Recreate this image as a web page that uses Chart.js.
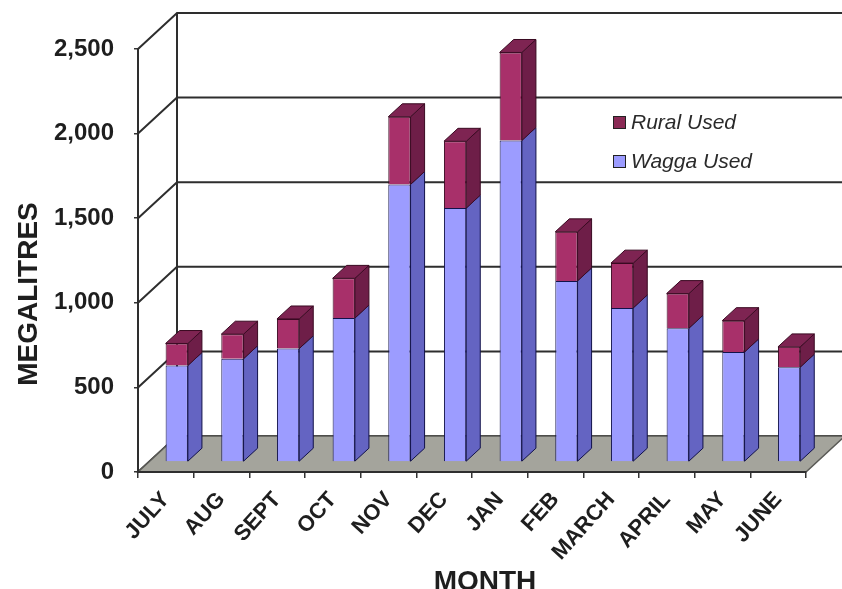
<!DOCTYPE html>
<html>
<head>
<meta charset="utf-8">
<title>Monthly water use</title>
<script src="https://cdn.jsdelivr.net/npm/chart.js@4.4.1/dist/chart.umd.min.js"></script>
<style>
  html, body { margin: 0; padding: 0; background: #ffffff; }
  #wrap { width: 842px; height: 589px; }
</style>
</head>
<body>
<div id="wrap"><canvas id="c" width="842" height="589"></canvas></div>
<script>
// Monthly water use, megalitres
const months = ['JULY', 'AUG', 'SEPT', 'OCT', 'NOV', 'DEC', 'JAN', 'FEB', 'MARCH', 'APRIL', 'MAY', 'JUNE'];
const waggaUsed = [570, 610, 670, 850, 1640, 1500, 1900, 1070, 910, 790, 650, 560];
const ruralUsed = [130, 145, 175, 235, 400, 395, 520, 290, 265, 205, 185, 120];
const yTicks = [0, 500, 1000, 1500, 2000, 2500];

// Perspective of the box: depth vector from the front plane to the back wall
const DX = 39, DY = -36;
const BAR_FRONT = 0.28;   // bars start this far into the box
const BAR_DEPTH = 0.36;   // and are this deep

const LABEL_FONT = '"Liberation Sans", Arial, sans-serif';

const box3d = {
  id: 'box3d',
  beforeDraw(chart) {
    const { ctx, chartArea: a, scales: { y } } = chart;
    ctx.save();
    // walls: horizontal lines on the back wall, diagonals on the side wall
    ctx.strokeStyle = '#2e2e2e';
    ctx.lineWidth = 2;
    yTicks.forEach(v => {
      const py = y.getPixelForValue(v);
      ctx.beginPath();
      ctx.moveTo(a.left, py);
      ctx.lineTo(a.left + DX, py + DY);
      ctx.lineTo(a.right + DX, py + DY);
      ctx.stroke();
    });
    ctx.beginPath();
    ctx.moveTo(a.left + DX, y.getPixelForValue(yTicks[yTicks.length - 1]) + DY);
    ctx.lineTo(a.left + DX, a.bottom + DY);
    ctx.stroke();
    // floor
    ctx.fillStyle = '#a4a49c';
    ctx.beginPath();
    ctx.moveTo(a.left, a.bottom);
    ctx.lineTo(a.right, a.bottom);
    ctx.lineTo(a.right + DX, a.bottom + DY);
    ctx.lineTo(a.left + DX, a.bottom + DY);
    ctx.closePath();
    ctx.fill();
    ctx.strokeStyle = '#5a5a56';
    ctx.lineWidth = 1.5;
    ctx.stroke();
    ctx.restore();
  },
  beforeDatasetsDraw(chart) {
    chart.ctx.save();
    chart.ctx.translate(DX * BAR_FRONT, DY * BAR_FRONT);
  },
  afterDatasetsDraw(chart) {
    const ctx = chart.ctx;
    const ddx = DX * BAR_DEPTH, ddy = DY * BAR_DEPTH;
    const last = chart.data.datasets.length - 1;
    chart.data.datasets.forEach((ds, di) => {
      const meta = chart.getDatasetMeta(di);
      meta.data.forEach(el => {
        const { x, y, base, width } = el.getProps(['x', 'y', 'base', 'width'], true);
        const l = x - width / 2, r = x + width / 2;
        ctx.lineWidth = 1;
        ctx.strokeStyle = ds.borderColor;
        // right side face
        ctx.fillStyle = ds.sideColor;
        ctx.beginPath();
        ctx.moveTo(r, y);
        ctx.lineTo(r + ddx, y + ddy);
        ctx.lineTo(r + ddx, base + ddy);
        ctx.lineTo(r, base);
        ctx.closePath();
        ctx.fill();
        ctx.stroke();
        // top face on the highest segment
        if (di === last) {
          ctx.fillStyle = ds.topColor;
          ctx.beginPath();
          ctx.moveTo(l, y);
          ctx.lineTo(r, y);
          ctx.lineTo(r + ddx, y + ddy);
          ctx.lineTo(l + ddx, y + ddy);
          ctx.closePath();
          ctx.fill();
          ctx.stroke();
        }
      });
    });
    ctx.restore();
  },
  afterDraw(chart) {
    const ctx = chart.ctx;
    ctx.save();
    // axis titles
    ctx.fillStyle = '#1e1e1e';
    ctx.font = 'bold 28px ' + LABEL_FONT;
    ctx.textAlign = 'center';
    ctx.textBaseline = 'middle';
    ctx.save();
    ctx.translate(29, 294);
    ctx.rotate(-Math.PI / 2);
    ctx.fillText('MEGALITRES', 0, 0);
    ctx.restore();
    ctx.textBaseline = 'alphabetic';
    ctx.fillText('MONTH', 485, 590);
    // legend, top series first
    ctx.font = 'italic 21px ' + LABEL_FONT;
    ctx.textAlign = 'left';
    ctx.textBaseline = 'middle';
    const items = chart.data.datasets.slice().reverse();
    items.forEach((ds, i) => {
      const cy = 123 + i * 39;
      ctx.fillStyle = ds.legendColor;
      ctx.fillRect(613, cy - 7, 13, 13);
      ctx.strokeStyle = '#222';
      ctx.lineWidth = 1;
      ctx.strokeRect(613.5, cy - 6.5, 12, 12);
      ctx.fillStyle = '#2a2a2a';
      ctx.fillText(ds.label, 631, cy);
    });
    ctx.restore();
  }
};

new Chart(document.getElementById('c'), {
  type: 'bar',
  data: {
    labels: months,
    datasets: [
      {
        label: 'Wagga Used',
        data: waggaUsed,
        backgroundColor: '#9c9cff',
        sideColor: '#6464c2',
        topColor: '#8080e0',
        legendColor: '#9c9cff',
        borderColor: '#12124a',
        borderWidth: 1,
        clip: false
      },
      {
        label: 'Rural Used',
        data: ruralUsed,
        backgroundColor: '#a8306a',
        sideColor: '#6e1e48',
        topColor: '#7e2452',
        legendColor: '#8a2a55',
        borderColor: '#3a0a22',
        borderWidth: 1,
        clip: false
      }
    ]
  },
  options: {
    responsive: false,
    animation: false,
    devicePixelRatio: 1,
    layout: { padding: { top: 49, right: 36, bottom: 0, left: 0 } },
    datasets: { bar: { categoryPercentage: 1, barPercentage: 0.4 } },
    plugins: { legend: { display: false }, tooltip: { enabled: false } },
    scales: {
      x: {
        stacked: true,
        offset: true,
        grid: { offset: true, drawOnChartArea: false, drawTicks: true, tickLength: 6, color: '#333', lineWidth: 1.5 },
        border: { display: true, color: '#2e2e2e', width: 2 },
        ticks: {
          color: '#1e1e1e',
          font: { family: LABEL_FONT, size: 22, weight: 'bold' },
          minRotation: 48, maxRotation: 48, padding: 9, autoSkip: false
        },
        afterFit(s) { s.height = 117; }
      },
      y: {
        stacked: true,
        min: 0, max: 2500,
        afterBuildTicks(s) { s.ticks = yTicks.map(v => ({ value: v })); },
        grid: { drawOnChartArea: false, drawTicks: true, tickLength: 4, color: '#333', lineWidth: 1.5 },
        border: { display: true, color: '#2e2e2e', width: 2 },
        ticks: {
          color: '#1e1e1e',
          font: { family: LABEL_FONT, size: 24, weight: 'bold' },
          padding: 20,
          callback: v => v.toLocaleString('en-US')
        },
        afterFit(s) { s.width = 138; }
      }
    }
  },
  plugins: [box3d]
});
</script>
</body>
</html>
